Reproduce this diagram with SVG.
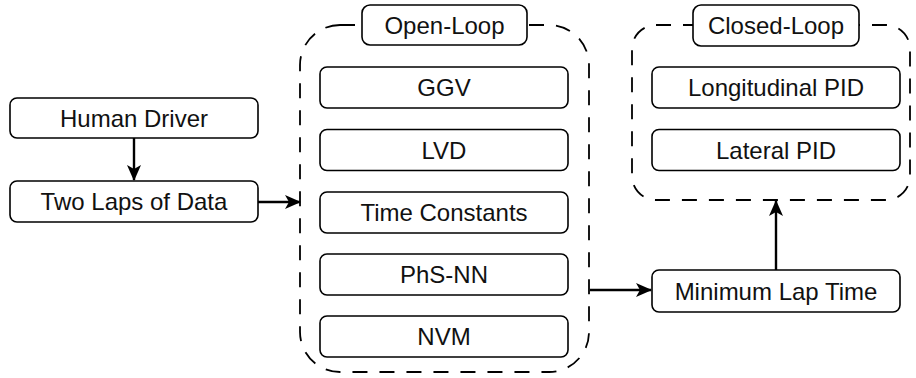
<svg xmlns="http://www.w3.org/2000/svg" width="916" height="378" viewBox="0 0 916 378">
<style>
.box{fill:#fff;stroke:#000;stroke-width:1.6}
.grp{fill:none;stroke:#000;stroke-width:1.8;stroke-dasharray:15 12}
.t{font-family:"Liberation Sans",Arial,sans-serif;font-size:24px;fill:#111;text-anchor:middle;dominant-baseline:central}
.c{fill:none;stroke:#000;stroke-width:2.4}
</style>
<defs>
<marker id="ah" viewBox="0 0 16 14" refX="15" refY="7" markerWidth="16" markerHeight="14" markerUnits="userSpaceOnUse" orient="auto">
<path d="M0,0 L16,7 L0,14 L4,7 Z" fill="#000"/>
</marker>
</defs>
<g id="open-loop">
<rect class="grp" x="300" y="25" width="289" height="347" rx="40" ry="40"/>
<rect class="box" x="362" y="5" width="165" height="40" rx="8"/>
<text class="t" x="444.5" y="25">Open-Loop</text>
</g>
<g id="closed-loop">
<rect class="grp" x="632" y="25" width="278" height="175" rx="24" ry="24"/>
<rect class="box" x="693" y="5" width="166" height="41" rx="8"/>
<text class="t" x="776" y="25.5">Closed-Loop</text>
</g>
<g id="human-driver"><rect class="box" x="10" y="98" width="248" height="40" rx="7"/><text class="t" x="134" y="118">Human Driver</text></g>
<g id="two-laps"><rect class="box" x="10" y="181" width="248" height="41" rx="7"/><text class="t" x="134" y="201.5">Two Laps of Data</text></g>
<g id="ggv"><rect class="box" x="320" y="67" width="248" height="41" rx="7"/><text class="t" x="444" y="87.5">GGV</text></g>
<g id="lvd"><rect class="box" x="320" y="129.5" width="248" height="41" rx="7"/><text class="t" x="444" y="150">LVD</text></g>
<g id="time-constants"><rect class="box" x="320" y="192" width="248" height="41" rx="7"/><text class="t" x="444" y="212.5">Time Constants</text></g>
<g id="phs-nn"><rect class="box" x="320" y="254" width="248" height="41" rx="7"/><text class="t" x="444" y="274.5">PhS-NN</text></g>
<g id="nvm"><rect class="box" x="320" y="316" width="248" height="41" rx="7"/><text class="t" x="444" y="336.5">NVM</text></g>
<g id="longitudinal-pid"><rect class="box" x="652" y="67" width="248" height="41" rx="7"/><text class="t" x="776" y="87.5">Longitudinal PID</text></g>
<g id="lateral-pid"><rect class="box" x="652" y="129.5" width="248" height="41" rx="7"/><text class="t" x="776" y="150">Lateral PID</text></g>
<g id="min-lap-time"><rect class="box" x="652" y="270" width="248" height="42" rx="7"/><text class="t" x="776" y="291">Minimum Lap Time</text></g>
<g id="connectors">
<line class="c" x1="134" y1="138" x2="134" y2="180" marker-end="url(#ah)"/>
<line class="c" x1="258" y1="202" x2="300" y2="202" marker-end="url(#ah)"/>
<line class="c" x1="590" y1="290" x2="651" y2="290" marker-end="url(#ah)"/>
<line class="c" x1="776" y1="270" x2="776" y2="201" marker-end="url(#ah)"/>
</g>
</svg>
